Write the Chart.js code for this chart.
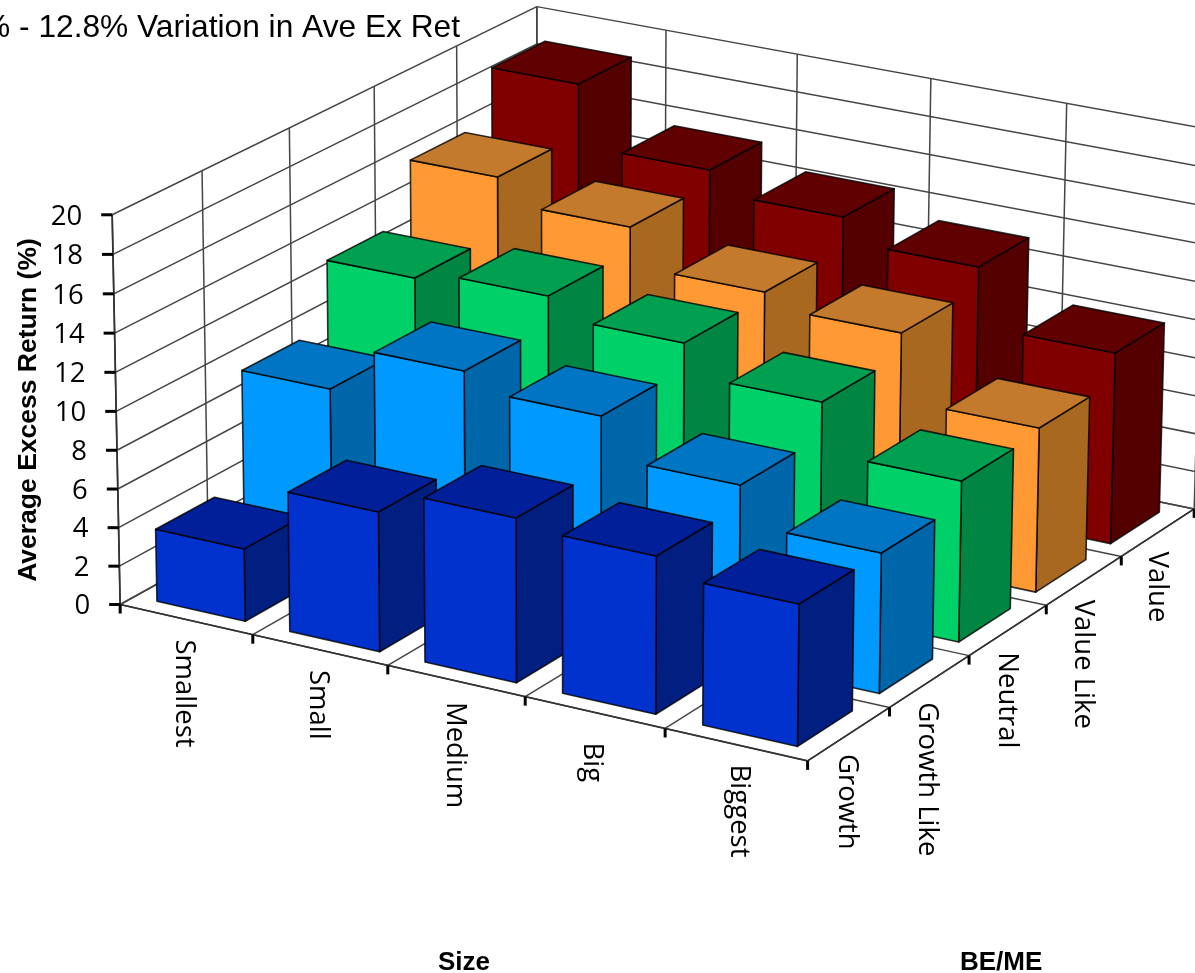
<!DOCTYPE html>
<html>
<head>
<meta charset="utf-8">
<title>Average Excess Return by Size and BE/ME</title>
<style>
  html, body { margin: 0; padding: 0; background: #fff; overflow: hidden; }
  canvas { display: block; }
</style>
<script src="https://cdn.jsdelivr.net/npm/chart.js@4/dist/chart.umd.js"></script>
</head>
<body>
<canvas id="chart" width="1195" height="973"></canvas>
<script>
// Categories along the two floor axes
const sizeLabels = ['Smallest', 'Small', 'Medium', 'Big', 'Biggest'];
const bemeLabels = ['Growth', 'Growth Like', 'Neutral', 'Value Like', 'Value'];

// Average excess return (%) per size bucket, one list per BE/ME bucket
const growth     = [3.75, 7.17, 8.38, 7.99, 7.14];
const growthLike = [9.55, 11.92, 11.08, 9.05, 7.13];
const neutral    = [12.96, 13.43, 12.42, 10.83, 8.27];
const valueLike  = [15.98, 14.72, 12.71, 12.00, 8.53];
const value      = [18.70, 15.47, 14.34, 13.10, 10.02];
const seriesValues = [growth, growthLike, neutral, valueLike, value];

// Face colours for each BE/ME bucket
const frontColors = ['#0232CE', '#0099FF', '#00D068', '#FF9933', '#800000'];
const sideColors  = ['#001F80', '#0066AA', '#008542', '#A86820', '#550000'];
const topColors   = ['#001F98', '#0075C4', '#00A050', '#C47A2C', '#600000'];

const titleText = '% - 12.8% Variation in Ave Ex Ret';
const yAxisTitle = 'Average Excess Return (%)';
const sizeAxisTitle = 'Size';
const bemeAxisTitle = 'BE/ME';

// Category-label nudges (px) from the middle of each floor-edge cell
const sizeLabelNudge = [[-10, 20], [-10, 20], [-9, 21], [-11, 30], [-5, 20]];
const bemeLabelNudge = [[-10, 20], [-11, 21], [-9, 22], [-9, 19], [-9, 19]];

// Half the bar footprint, in category units (gap width of 50%)
const BAR_HALF = 1 / 3;

// Camera: homogeneous projection of axis fractions (x, y, z in 0..1) to canvas pixels
const CAMERA = [
  652.09825, -9.94288, 456.19505, 120.16825,
  123.04915, -393.47561, -204.05909, 604.52877,
  -0.04375, -0.01738, 0.07246, 1
];

function project(fx, fy, fz) {
  const c = CAMERA;
  const w = c[8] * fx + c[9] * fy + c[10] * fz + c[11];
  return [
    (c[0] * fx + c[1] * fy + c[2] * fz + c[3]) / w,
    (c[4] * fx + c[5] * fy + c[6] * fz + c[7]) / w
  ];
}

// Fraction of a scale's length at a given value, read through the scale itself
function frac(scale, v) {
  return scale.getDecimalForPixel(scale.getPixelForValue(v));
}

function quad(ctx, pts, fill) {
  ctx.beginPath();
  pts.forEach((p, i) => (i ? ctx.lineTo(p[0], p[1]) : ctx.moveTo(p[0], p[1])));
  ctx.closePath();
  if (fill) {
    ctx.fillStyle = fill;
    ctx.fill();
  }
  ctx.stroke();
}

function segment(ctx, a, b) {
  ctx.beginPath();
  ctx.moveTo(a[0], a[1]);
  ctx.lineTo(b[0], b[1]);
  ctx.stroke();
}

// Bar controller that paints each value as a box standing on the projected floor
class Bar3DController extends Chart.BarController {
  draw() {
    const { ctx, scales } = this.chart;
    const ds = this.getDataset();
    const n = this._cachedMeta.data.length;
    const z0 = frac(scales.z, this.index - BAR_HALF);
    const z1 = frac(scales.z, this.index + BAR_HALF);
    const base = frac(scales.y, 0);
    ctx.save();
    ctx.lineWidth = 1.6;
    ctx.lineJoin = 'round';
    ctx.strokeStyle = 'rgba(0,0,0,0.8)';
    for (let i = 0; i < n; i++) {
      const top = frac(scales.y, this.getParsed(i).y);
      const x0 = frac(scales.x, i - BAR_HALF);
      const x1 = frac(scales.x, i + BAR_HALF);
      quad(ctx, [project(x1, base, z0), project(x1, base, z1), project(x1, top, z1), project(x1, top, z0)], ds.sideColor);
      quad(ctx, [project(x0, base, z0), project(x1, base, z0), project(x1, top, z0), project(x0, top, z0)], ds.backgroundColor);
      quad(ctx, [project(x0, top, z0), project(x1, top, z0), project(x1, top, z1), project(x0, top, z1)], ds.topColor);
    }
    ctx.restore();
  }
}
Bar3DController.id = 'bar3d';
Bar3DController.defaults = Chart.BarController.defaults;
Bar3DController.overrides = Chart.BarController.overrides;
Chart.register(Bar3DController);

// Walls, floor grid, axis lines, ticks and every piece of axis text
const axes3d = {
  id: 'axes3d',
  beforeDatasetsDraw(chart) {
    const { ctx, scales } = chart;
    const yTicks = scales.y.ticks;
    const nx = sizeLabels.length;
    const nz = bemeLabels.length;
    ctx.save();
    ctx.lineWidth = 1.5;
    ctx.strokeStyle = '#454545';

    // Value gridlines on the two walls
    yTicks.forEach(t => {
      const fy = frac(scales.y, t.value);
      const corner = project(0, fy, 1);
      segment(ctx, project(0, fy, 0), corner);
      segment(ctx, corner, project(1, fy, 1));
    });
    // Category gridlines on the walls and floor
    for (let i = 0; i <= nx; i++) {
      const fx = i / nx;
      segment(ctx, project(fx, 0, 1), project(fx, 1, 1));
      segment(ctx, project(fx, 0, 0), project(fx, 0, 1));
    }
    for (let j = 0; j <= nz; j++) {
      const fz = j / nz;
      segment(ctx, project(0, 0, fz), project(0, 1, fz));
      segment(ctx, project(0, 0, fz), project(1, 0, fz));
    }

    // Axis lines
    ctx.strokeStyle = '#333333';
    ctx.lineWidth = 1.7;
    segment(ctx, project(0, 0, 0), project(0, 1, 0));
    segment(ctx, project(0, 0, 0), project(1, 0, 0));
    segment(ctx, project(1, 0, 0), project(1, 0, 1));

    // Tick marks
    ctx.strokeStyle = '#000';
    ctx.lineWidth = 3;
    yTicks.forEach(t => {
      const p = project(0, frac(scales.y, t.value), 0);
      segment(ctx, [p[0] - 11, p[1]], p);
    });
    for (let i = 0; i <= nx; i++) {
      const p = project(i / nx, 0, 0);
      segment(ctx, p, [p[0], p[1] + 9]);
    }
    for (let j = 1; j <= nz; j++) {
      const p = project(1, 0, j / nz);
      segment(ctx, p, [p[0], p[1] + 9]);
    }

    // Value tick labels
    ctx.fillStyle = '#000';
    ctx.font = '27.5px "Open Sans"';
    ctx.textAlign = 'right';
    ctx.textBaseline = 'middle';
    yTicks.forEach(t => {
      const p = project(0, frac(scales.y, t.value), 0);
      ctx.fillText(t.label, p[0] - 30, p[1] + 2);
    });

    // Category labels, turned to read downwards
    ctx.textAlign = 'left';
    ctx.textBaseline = 'alphabetic';
    const turned = (text, p, nudge) => {
      ctx.save();
      ctx.translate(p[0] + nudge[0], p[1] + nudge[1]);
      ctx.rotate(Math.PI / 2);
      ctx.fillText(text, 0, 0);
      ctx.restore();
    };
    sizeLabels.forEach((label, i) => {
      turned(label, project(frac(scales.x, i), 0, 0), sizeLabelNudge[i]);
    });
    bemeLabels.forEach((label, j) => {
      turned(label, project(1, 0, frac(scales.z, j)), bemeLabelNudge[j]);
    });

    // Titles
    ctx.font = '31.7px "Liberation Sans"';
    ctx.textAlign = 'right';
    ctx.fillText(titleText, 460, 37);

    ctx.font = 'bold 26px "Liberation Sans"';
    ctx.textAlign = 'left';
    ctx.fillText(sizeAxisTitle, 438, 970);
    ctx.fillText(bemeAxisTitle, 960, 970);

    ctx.save();
    ctx.translate(36, 410);
    ctx.rotate(-Math.PI / 2);
    ctx.font = 'bold 26.5px "Liberation Sans"';
    ctx.textAlign = 'center';
    ctx.fillText(yAxisTitle, 0, 0);
    ctx.restore();

    ctx.restore();
  }
};

new Chart(document.getElementById('chart'), {
  type: 'bar3d',
  data: {
    labels: sizeLabels,
    datasets: bemeLabels.map((label, j) => ({
      label,
      data: seriesValues[j],
      backgroundColor: frontColors[j],
      sideColor: sideColors[j],
      topColor: topColors[j],
      clip: false
    }))
  },
  options: {
    responsive: false,
    animation: false,
    events: [],
    layout: { padding: 0 },
    plugins: {
      legend: { display: false },
      title: { display: false },
      tooltip: { enabled: false }
    },
    scales: {
      x: { type: 'category', offset: true, display: false },
      y: { type: 'linear', min: 0, max: 20, ticks: { stepSize: 2 }, display: false },
      z: { type: 'category', axis: 'x', labels: bemeLabels, offset: true, display: false }
    }
  },
  plugins: [axes3d]
});
</script>
</body>
</html>
